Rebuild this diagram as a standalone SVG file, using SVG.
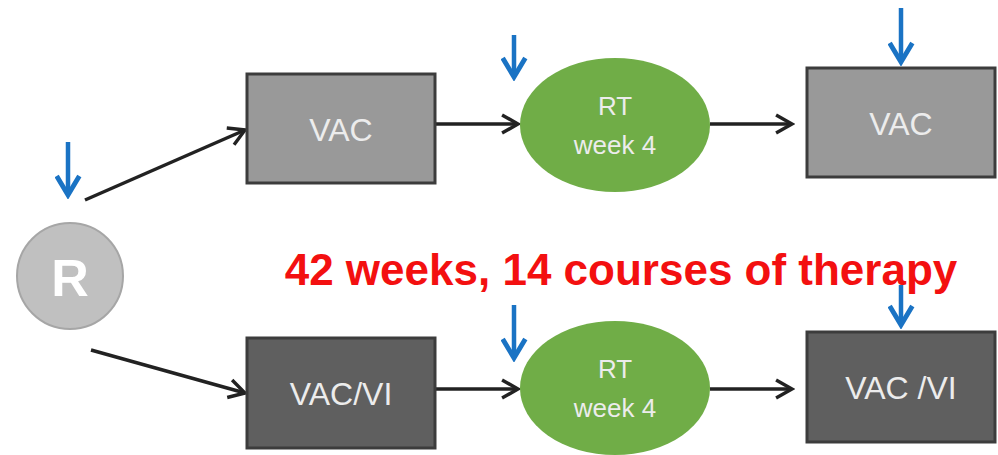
<svg xmlns="http://www.w3.org/2000/svg" width="998" height="455" viewBox="0 0 998 455">
<defs>
<marker id="blk" viewBox="0 0 10 10" refX="8.5" refY="5" markerWidth="6.5" markerHeight="6.5" orient="auto" markerUnits="strokeWidth">
<path d="M1.5,1 L8.5,5 L1.5,9" fill="none" stroke="#222" stroke-width="1.5" stroke-linejoin="miter"/>
</marker>
<marker id="blu" viewBox="0 0 10 10" refX="8.5" refY="5" markerWidth="6" markerHeight="6" orient="auto" markerUnits="strokeWidth">
<path d="M1.5,0.8 L8.5,5 L1.5,9.2" fill="none" stroke="#1a73c4" stroke-width="1.8"/>
</marker>
<style>
.conn{stroke:#222;stroke-width:3.5;fill:none;marker-end:url(#blk)}
.mark{stroke:#1a73c4;stroke-width:4.5;fill:none;marker-end:url(#blu)}
.box{stroke:#3c3c3c;stroke-width:3}
.lt{fill:#999999}
.dk{fill:#5f5f5f}
.rt{fill:#70ad47}
.lbl{font-family:"Liberation Sans",Arial,sans-serif;fill:#ececec;text-anchor:middle}
</style>
</defs>
<rect width="998" height="455" fill="#fff"/>
<g id="connectors">
<line class="conn" x1="85" y1="200" x2="245" y2="130"/>
<line class="conn" x1="91" y1="350" x2="245" y2="393"/>
<line class="conn" x1="435" y1="124" x2="518" y2="124"/>
<line class="conn" x1="710" y1="124" x2="792" y2="124"/>
<line class="conn" x1="435" y1="389" x2="518" y2="389"/>
<line class="conn" x1="710" y1="389" x2="792" y2="389"/>
</g>
<g id="markers">
<line class="mark" x1="68" y1="142" x2="68" y2="195"/>
<line class="mark" x1="514" y1="35" x2="514" y2="77"/>
<line class="mark" x1="901" y1="8" x2="901" y2="62"/>
<line class="mark" x1="514" y1="305" x2="514" y2="358"/>
<line class="mark" x1="901" y1="285" x2="901" y2="325"/>
</g>
<g id="R">
<circle cx="70" cy="276" r="53" fill="#c0c0c0" stroke="#a6a6a6" stroke-width="2"/>
<text x="70" y="296" font-family="Liberation Sans,Arial,sans-serif" font-weight="bold" font-size="52" fill="#fff" text-anchor="middle">R</text>
</g>
<g id="vac1">
<rect class="box lt" x="247" y="74" width="188" height="109"/>
<text class="lbl" x="341" y="141" font-size="32">VAC</text>
</g>
<g id="rt1">
<ellipse class="rt" cx="615" cy="125" rx="95" ry="67"/>
<text class="lbl" x="615" y="115" font-size="26">RT</text>
<text class="lbl" x="615" y="154" font-size="26">week 4</text>
</g>
<g id="vac2">
<rect class="box lt" x="807" y="68" width="188" height="109"/>
<text class="lbl" x="901" y="135" font-size="32">VAC</text>
</g>
<g id="vacvi1">
<rect class="box dk" x="247" y="338" width="188" height="110"/>
<text class="lbl" x="341" y="405" font-size="32">VAC/VI</text>
</g>
<g id="rt2">
<ellipse class="rt" cx="615" cy="388" rx="95" ry="67"/>
<text class="lbl" x="615" y="378" font-size="26">RT</text>
<text class="lbl" x="615" y="417" font-size="26">week 4</text>
</g>
<g id="vacvi2">
<rect class="box dk" x="807" y="332" width="188" height="110"/>
<text class="lbl" x="901" y="399" font-size="32">VAC /VI</text>
</g>
<text x="621" y="285" font-family="Liberation Sans,Arial,sans-serif" font-weight="bold" font-size="44" fill="#f31010" text-anchor="middle">42 weeks, 14 courses of therapy</text>
</svg>
